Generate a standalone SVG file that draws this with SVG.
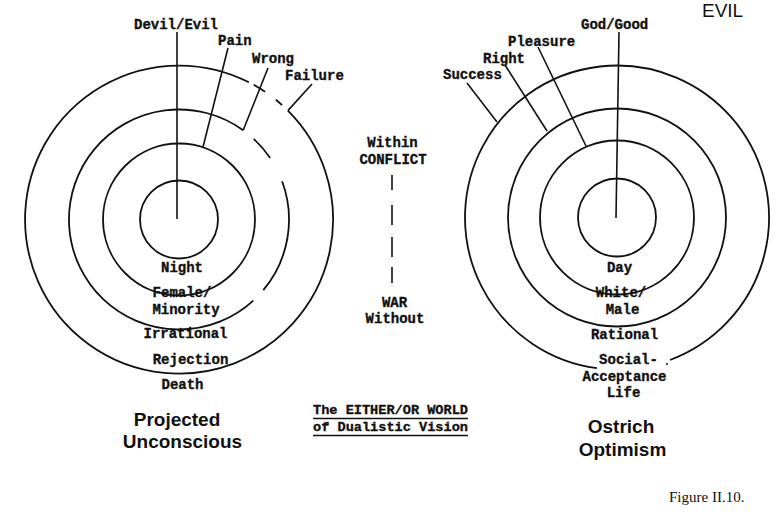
<svg xmlns="http://www.w3.org/2000/svg" width="778" height="516" viewBox="0 0 778 516">
<style>
.ring{fill:none;stroke:#111;stroke-width:1.8}
.lead{fill:none;stroke:#111;stroke-width:1.6}
.tw{font-family:"Liberation Mono","DejaVu Sans Mono",monospace;font-weight:bold;font-size:14px;fill:#111;stroke:#111;stroke-width:0.35}
.twm{font-family:"Liberation Mono","DejaVu Sans Mono",monospace;font-weight:bold;font-size:14px;fill:#111;stroke:#111;stroke-width:0.35;text-anchor:middle}
.title{font-family:"Liberation Sans",Arial,sans-serif;font-weight:bold;font-size:19px;fill:#111;text-anchor:middle}
.ul{stroke:#111;stroke-width:1.5}
</style>
<rect width="778" height="516" fill="#fff"/>

<g id="left-diagram">
  <circle class="ring" cx="179" cy="219.5" r="39"/>
  <circle class="ring" cx="179" cy="219.5" r="76"/>
  <path class="ring" d="M282.1 181.2 A110 110 0 0 1 263.3 290.2"/>
  <path class="ring" d="M253.3 300.6 A110 110 0 1 1 243.2 130.2"/>
  <path class="ring" d="M253.7 138.8 A110 110 0 0 1 270.2 158"/>
  <path class="ring" d="M287.9 110.6 A154 154 0 1 1 248.9 82.3"/>
  <path class="ring" d="M253.7 84.8 A154 154 0 0 1 265.1 91.8"/>
  <path class="ring" d="M275.9 99.8 A154 154 0 0 1 282 105.1"/>
  <text class="tw" x="134" y="29">Devil/Evil</text>
  <text class="tw" x="218" y="45">Pain</text>
  <text class="tw" x="252" y="63">Wrong</text>
  <text class="tw" x="285" y="80">Failure</text>
  <text class="twm" x="182" y="272">Night</text>
  <text class="twm" x="182" y="297">Female/</text>
  <text class="twm" x="186" y="314">Minority</text>
  <text class="twm" x="185.5" y="338">Irrational</text>
  <text class="twm" x="190.5" y="364">Rejection</text>
  <text class="twm" x="182.5" y="389">Death</text>
  <text class="title" x="177" y="426">Projected</text>
  <text class="title" x="182.5" y="448">Unconscious</text>
</g>

<g id="right-diagram">
  <circle class="ring" cx="617" cy="217.5" r="39"/>
  <circle class="ring" cx="617" cy="217.5" r="77"/>
  <circle class="ring" cx="617" cy="217.5" r="109"/>
  <path class="ring" d="M596.9 368.2 A152 152 0 1 1 670 360"/>
  <circle cx="667" cy="364" r="1" fill="#111"/>
  <text class="tw" x="581" y="29">God/Good</text>
  <text class="tw" x="508" y="46">Pleasure</text>
  <text class="tw" x="483" y="63">Right</text>
  <text class="tw" x="443" y="79">Success</text>
  <text class="twm" x="619.5" y="272">Day</text>
  <text class="twm" x="621" y="297">White/</text>
  <text class="twm" x="622.5" y="314">Male</text>
  <text class="twm" x="624.5" y="339">Rational</text>
  <text class="twm" x="628.5" y="364">Social-</text>
  <text class="twm" x="624.5" y="381">Acceptance</text>
  <text class="twm" x="623.5" y="397">Life</text>
  <text class="title" x="621" y="433">Ostrich</text>
  <text class="title" x="622.5" y="456">Optimism</text>
</g>

<g id="center-label">
  <text class="twm" x="392.5" y="147">Within</text>
  <text class="twm" x="393" y="164">CONFLICT</text>
  <text class="twm" x="394.5" y="307">WAR</text>
  <text class="twm" x="395" y="323">Without</text>
</g>

<g id="caption">
  <text class="twm" x="390.5" y="414" style="font-size:13.6px">The EITHER/OR WORLD</text>
  <line class="ul" x1="313" y1="418.5" x2="468" y2="418.5"/>
  <text class="twm" x="390.5" y="431" style="font-size:13.6px">of Dualistic Vision</text>
  <line class="ul" x1="313" y1="435.5" x2="468" y2="435.5"/>
</g>

<g id="evil-label">
  <text x="702" y="17" font-family="Liberation Sans, Arial, sans-serif" font-size="19" fill="#111">EVIL</text>
</g>

<g id="figure-number">
  <text x="669" y="502" font-family="Liberation Serif, Times New Roman, serif" font-size="15" fill="#111">Figure II.10.</text>
</g>

<g id="connectors">
  <line class="lead" x1="177" y1="219" x2="177" y2="32"/>
  <line class="lead" x1="228" y1="48" x2="203" y2="147"/>
  <line class="lead" x1="268" y1="68" x2="243.2" y2="130.2"/>
  <line class="lead" x1="312" y1="84" x2="287.9" y2="110.6"/>
  <line class="lead" x1="616" y1="218" x2="619" y2="32"/>
  <line class="lead" x1="538" y1="47" x2="586" y2="146"/>
  <line class="lead" x1="505" y1="65" x2="547" y2="131"/>
  <line class="lead" x1="467" y1="83" x2="497" y2="122"/>
  <path class="lead" d="M392 175 V190 M392 205 V225 M392 237 V257 M392 267 V283"/>
</g>
</svg>
